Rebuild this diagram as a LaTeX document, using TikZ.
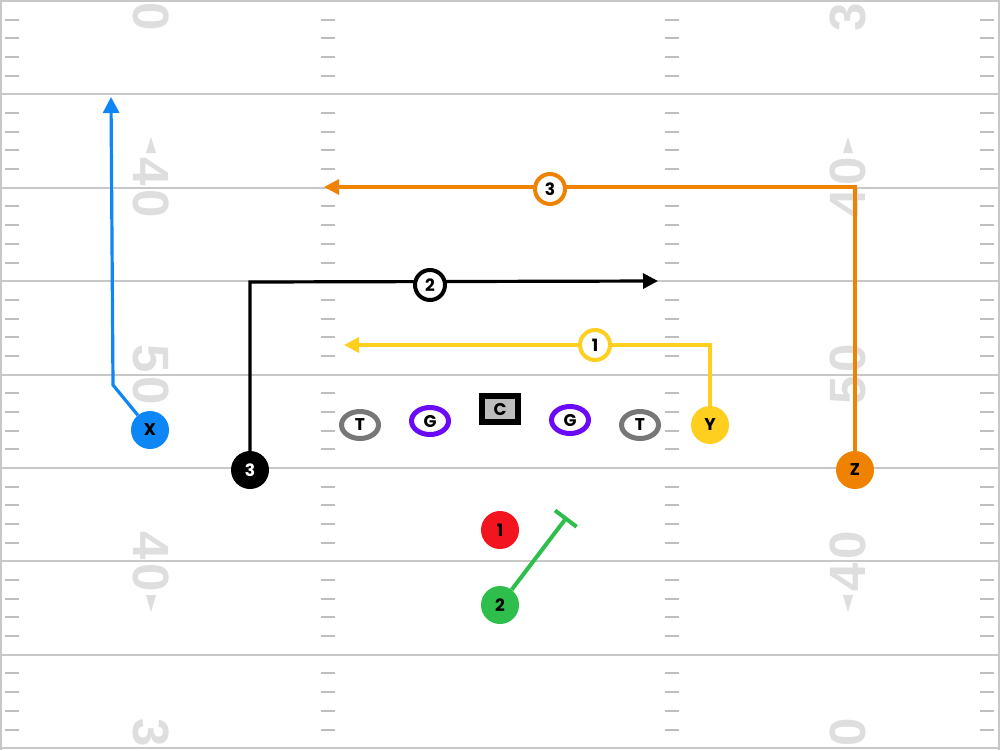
\documentclass[tikz,border=0pt]{standalone}
\usepackage{fontspec}
\usetikzlibrary{arrows.meta,shapes.geometric}
\newfontfamily\lblfont{Poppins}
\newfontfamily\ydfont{Liberation Sans}
\definecolor{xblue}{HTML}{0D87F5}
\definecolor{zorange}{HTML}{EF8200}
\definecolor{yyellow}{HTML}{FFCF1F}
\definecolor{ggreen}{HTML}{2DBE4B}
\definecolor{rred}{HTML}{F2141E}
\definecolor{gpurple}{HTML}{6A0AF8}
\definecolor{tgray}{HTML}{777777}
\definecolor{cgray}{HTML}{BDBDBD}
\definecolor{lineg}{HTML}{C8C8C8}
\definecolor{hashg}{HTML}{BEBEBE}
\definecolor{numgray}{HTML}{DEDEDE}
\begin{document}
\begin{tikzpicture}[x=1pt,y=-1pt,
  yardline/.style={draw=lineg,line width=2pt},
  hashmark/.style={draw=hashg,line width=2pt},
  ynum/.style={font=\ydfont\bfseries\fontsize{51}{51}\selectfont,text=numgray,inner sep=0pt},
  lbl/.style={font=\lblfont\bfseries\fontsize{17}{17}\selectfont},
  player/.style={lbl,circle,minimum size=38pt,inner sep=0pt},
  lineman/.style={lbl,ellipse,fill=white,line width=5pt,minimum width=37pt,minimum height=27pt,inner sep=0pt},
  rlabel/.style={lbl,circle,fill=white,line width=4pt,minimum size=30pt,inner sep=0pt},
  route/.style={line width=3.2pt},
  tip/.style={-{Triangle[length=15pt,width=15pt]}}
]
\useasboundingbox (0,0) rectangle (1000,750);
\fill[white] (0,0) rectangle (1000,750);
\begin{scope}
\clip (0,0) rectangle (1000,750);
% yard lines
\foreach \k in {0,...,8} \draw[yardline] (0,{1+93.4*\k}) -- (1000,{1+93.4*\k});
% hash marks
\foreach \k in {0,...,7} {
  \foreach \j in {1,...,4} {
    \pgfmathsetmacro\yy{1+93.4*\k+18.68*\j}
    \foreach \xa in {5,321,665,980} \draw[hashmark] (\xa,\yy) -- ++(14,0);
  }
}
% sidelines
\draw[yardline] (1,0) -- (1,750);
\draw[yardline] (998.5,0) -- (998.5,750);
% yard numbers
\foreach \k/\yl/\da/\db in {0/1/3/0, 1/187.8/4/0, 2/374.6/5/0, 3/561.4/4/0, 4/748.2/3/0} {
  \node[ynum,rotate=-90] (la\k) at (151,\yl-16) {\da};
  \node[ynum,rotate=-90] (lb\k) at (151,\yl+16) {\db};
  \node[ynum,rotate=90] (ra\k) at (848,\yl+16) {\da};
  \node[ynum,rotate=90] (rb\k) at (848,\yl-16) {\db};
}
% direction triangles
\fill[numgray] (151,137) -- (156,153) -- (146,153) -- cycle;
\fill[numgray] (848,137) -- (853,153) -- (843,153) -- cycle;
\fill[numgray] (151,612) -- (156,595) -- (146,595) -- cycle;
\fill[numgray] (848,612) -- (853,595) -- (843,595) -- cycle;
\end{scope}

% players
\node[player,fill=xblue] (X) at (150,430) {X};
\node[player,fill=black,text=white] (P3) at (250,470) {3};
\node[player,fill=zorange] (Z) at (855,470) {Z};
\node[player,fill=yyellow] (Y) at (710,425) {Y};
\node[player,fill=rred] (R1) at (500,530) {1};
\node[player,fill=ggreen] (G2) at (500,605) {2};
\node[lineman,draw=tgray] (LT) at (360,425) {T};
\node[lineman,draw=gpurple] (LG) at (430,421) {G};
\node[lbl,draw=black,fill=cgray,line width=6pt,minimum width=36pt,minimum height=26pt,inner sep=0pt] (C) at (500,409) {C};
\node[lineman,draw=gpurple] (RG) at (570,420) {G};
\node[lineman,draw=tgray] (RT) at (640,425) {T};

% route points
\coordinate (Xb) at (113,385);
\coordinate (Xe) at (111,97);
\coordinate (Bb) at (250,282);
\coordinate (Be) at (658,281);
\coordinate (Zb) at (855,187);
\coordinate (Ze) at (324,187);
\coordinate (Yb) at (710,345);
\coordinate (Ye) at (344,345);
\coordinate (Ge) at (567,517);

% routes
\draw[route,xblue,-{Triangle[length=16pt,width=16pt]}] (X) -- (Xb) -- (Xe);
\draw[route,black,tip] (P3) -- (Bb) -- (Be);
\draw[route,zorange,tip] (Z) -- (Zb) -- (Ze);
\draw[route,yyellow,tip] (Y) -- (Yb) -- (Ye);
\draw[line width=4pt,ggreen,-{Bar[width=27pt]}] (G2) -- (Ge);

% route labels
\node[rlabel,draw=black] (L2) at (430,285) {2};
\node[rlabel,draw=zorange] (L3) at (550,189) {3};
\node[rlabel,draw=yyellow] (L1) at (595,345) {1};
\end{tikzpicture}
\end{document}
